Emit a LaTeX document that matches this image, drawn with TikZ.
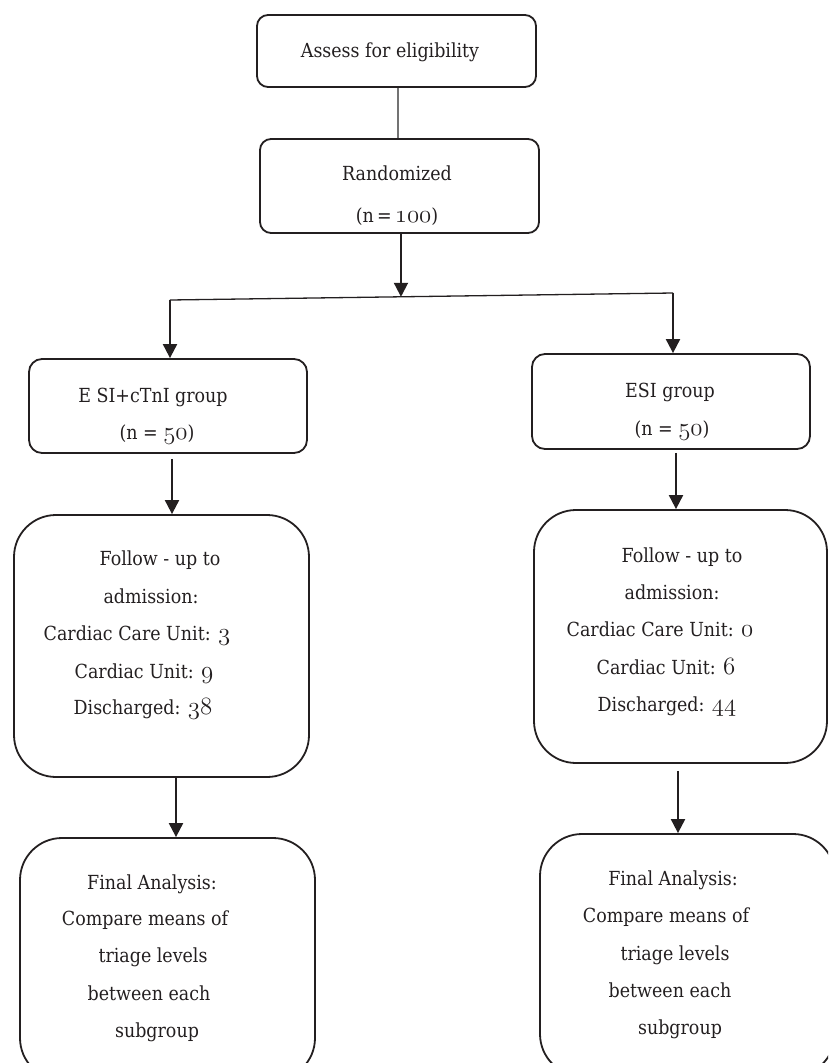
\documentclass[tikz,border=0pt]{standalone}
\usepackage{fontspec}
\newfontfamily\dfont{DejaVu Serif Condensed}
\usetikzlibrary{arrows.meta,calc}
\newcommand{\osn}[1]{{\fontsize{23}{23}\usefont{OML}{lmm}{m}{it}#1}}
\definecolor{ink}{HTML}{231F20}
\begin{document}
\begin{tikzpicture}[x=1pt,y=-1pt,
  box/.style={draw=ink,line width=1.8pt,inner sep=0pt,rounded corners=#1},
  box/.default=11pt,
  txt/.style={anchor=base,inner sep=0pt,text=ink,font=\dfont\fontsize{19.4}{23}\selectfont},
  arr/.style={draw=ink,line width=2pt,-{Triangle[length=14pt,width=14pt]}},
  thin/.style={draw=ink,line width=1.3pt},
  gline/.style={draw=black!55,line width=1.3pt}]
\clip (0,0) rectangle (828,1063);
% boxes
\node[box, minimum width=279pt, minimum height=72pt] (B1) at (396.5,51) {};
\node[box, minimum width=279pt, minimum height=94pt] (B2) at (399.5,186) {};
\node[box=13pt, minimum width=278pt, minimum height=94pt] (B3) at (168,406) {};
\node[box=13pt, minimum width=278pt, minimum height=95pt] (B5) at (671,401.5) {};
\node[box=42pt, minimum width=295pt, minimum height=262pt] (B4) at (161.5,646) {};
\node[box=42pt, minimum width=293pt, minimum height=253pt] (B6) at (680.5,636.5) {};
\node[box=42pt, minimum width=295pt, minimum height=242pt] (B7) at (167.5,959) {};
\node[box=42pt, minimum width=295pt, minimum height=242pt] (B8) at (687.5,955) {};
% texts
\node[txt] (t1) at (390,57) {Assess for eligibility};
\node[txt] (t2a) at (397,180) {Randomized};
\node[txt] (t2b) at (397,222) {(n\,=\,\osn{100})};
\node[txt] (t3a) at (153,402) {E SI+cTnI group};
\node[txt] (t3b) at (157,439) {(n = \osn{50})};
\node[txt] (t5a) at (670,397) {ESI group};
\node[txt] (t5b) at (672,435) {(n = \osn{50})};
\node[txt] (t4a) at (160,565) {Follow - up to};
\node[txt] (t4b) at (151,603) {admission:};
\node[txt] (t4c) at (137,640) {Cardiac Care Unit: \osn{3}};
\node[txt] (t4d) at (144,678) {Cardiac Unit: \osn{9}};
\node[txt] (t4e) at (143,714) {Discharged: \osn{38}};
\node[txt] (t6a) at (682,562) {Follow - up to};
\node[txt] (t6b) at (672,599) {admission:};
\node[txt] (t6c) at (660,636) {Cardiac Care Unit: \osn{0}};
\node[txt] (t6d) at (666,674) {Cardiac Unit: \osn{6}};
\node[txt] (t6e) at (667,711) {Discharged: \osn{44}};
\node[txt] (t7a) at (152,889) {Final Analysis:};
\node[txt] (t7b) at (145,925) {Compare means of};
\node[txt] (t7c) at (153,962) {triage levels};
\node[txt] (t7d) at (149,1000) {between each};
\node[txt] (t7e) at (157,1037) {subgroup};
\node[txt] (t8a) at (673,885) {Final Analysis:};
\node[txt] (t8b) at (666,922) {Compare means of};
\node[txt] (t8c) at (675,960) {triage levels};
\node[txt] (t8d) at (670,997) {between each};
\node[txt] (t8e) at (680,1034) {subgroup};
% connectors
\draw[gline] ([xshift=1.5pt]B1.south) -- ([xshift=-1.5pt]B2.north);
\coordinate (L) at (170,300);
\coordinate (R) at (673,293);
\coordinate (J) at ($(L)!0.4592!(R)$);
\draw[thin] (L) -- (R);
\draw[arr] (B2.south -| J) -- (J);
\draw[arr] (L) -- (L |- B3.north);
\draw[arr] (R) -- (R |- B5.north);
\draw[arr] ([xshift=4pt,yshift=-5pt]B3.south) -- ([xshift=10.5pt]B4.north);
\draw[arr] ([xshift=5pt,yshift=-3pt]B5.south) -- ([xshift=-4.5pt]B6.north);
\draw[arr] ([xshift=14.5pt]B4.south) -- ([xshift=8.5pt]B7.north);
\draw[arr] ([xshift=-2.5pt,yshift=-7pt]B6.south) -- ([xshift=-9.5pt]B8.north);
\end{tikzpicture}
\end{document}
